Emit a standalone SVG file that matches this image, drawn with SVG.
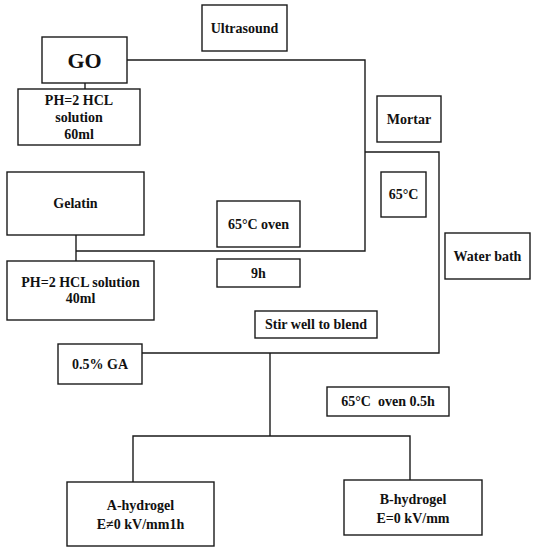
<svg xmlns="http://www.w3.org/2000/svg" width="535" height="550" viewBox="0 0 535 550">
<style>
.b{fill:#fff;stroke:#1a1a1a;stroke-width:1.4}
.t{font-weight:bold;font-size:14px;fill:#111;text-anchor:middle}
.c{fill:none;stroke:#1a1a1a;stroke-width:1.4}
</style>
<rect width="535" height="550" fill="#fff"/>
<g id="connectors">
<path class="c" d="M85,83 V89"/>
<path class="c" d="M127,60 H365 V251 H76"/>
<path class="c" d="M76,235 V261"/>
<path class="c" d="M365,152 H439 V353 H142"/>
<path class="c" d="M270,353 V436"/>
<path class="c" d="M133,482 V436 H410 V480"/>
</g>
<g font-family="Times New Roman, Liberation Serif, DejaVu Serif, serif">
<g id="ultrasound"><rect class="b" x="202" y="5" width="85" height="46"/><text class="t" x="244.5" y="33">Ultrasound</text></g>
<g id="go"><rect class="b" x="42" y="37" width="85" height="46"/><text class="t" x="84.5" y="68" style="font-size:22px">GO</text></g>
<g id="hcl60"><rect class="b" x="18" y="89" width="122" height="56"/><text class="t" x="79" y="105">PH=2 HCL</text><text class="t" x="79" y="122">solution</text><text class="t" x="79" y="139">60ml</text></g>
<g id="mortar"><rect class="b" x="377" y="96" width="64" height="46"/><text class="t" x="409" y="124">Mortar</text></g>
<g id="temp65"><rect class="b" x="381" y="172" width="45" height="45"/><text class="t" x="403.5" y="199">65°C</text></g>
<g id="waterbath"><rect class="b" x="445" y="233" width="85" height="46"/><text class="t" x="487.5" y="261">Water bath</text></g>
<g id="gelatin"><rect class="b" x="7" y="172" width="137" height="63"/><text class="t" x="75.5" y="208">Gelatin</text></g>
<g id="hcl40"><rect class="b" x="7" y="261" width="147" height="59"/><text class="t" x="80.5" y="287">PH=2 HCL solution</text><text class="t" x="80.5" y="303">40ml</text></g>
<g id="oven"><rect class="b" x="217" y="201" width="83" height="46"/><text class="t" x="258.5" y="229">65°C oven</text></g>
<g id="time9h"><rect class="b" x="217" y="259" width="83" height="28"/><text class="t" x="258.5" y="278">9h</text></g>
<g id="stir"><rect class="b" x="255" y="311" width="122" height="27"/><text class="t" x="316" y="329">Stir well to blend</text></g>
<g id="ga"><rect class="b" x="58" y="344" width="84" height="40"/><text class="t" x="100" y="369">0.5% GA</text></g>
<g id="oven05"><rect class="b" x="327" y="387" width="122" height="29"/><text class="t" x="388" y="406">65°C&#160; oven 0.5h</text></g>
<g id="ahydrogel"><rect class="b" x="67" y="482" width="147" height="64"/><text class="t" x="140.5" y="510">A-hydrogel</text><text class="t" x="140.5" y="529">E≠0 kV/mm1h</text></g>
<g id="bhydrogel"><rect class="b" x="344" y="480" width="138" height="55"/><text class="t" x="413" y="504">B-hydrogel</text><text class="t" x="413" y="523">E=0 kV/mm</text></g>
</g>
</svg>
